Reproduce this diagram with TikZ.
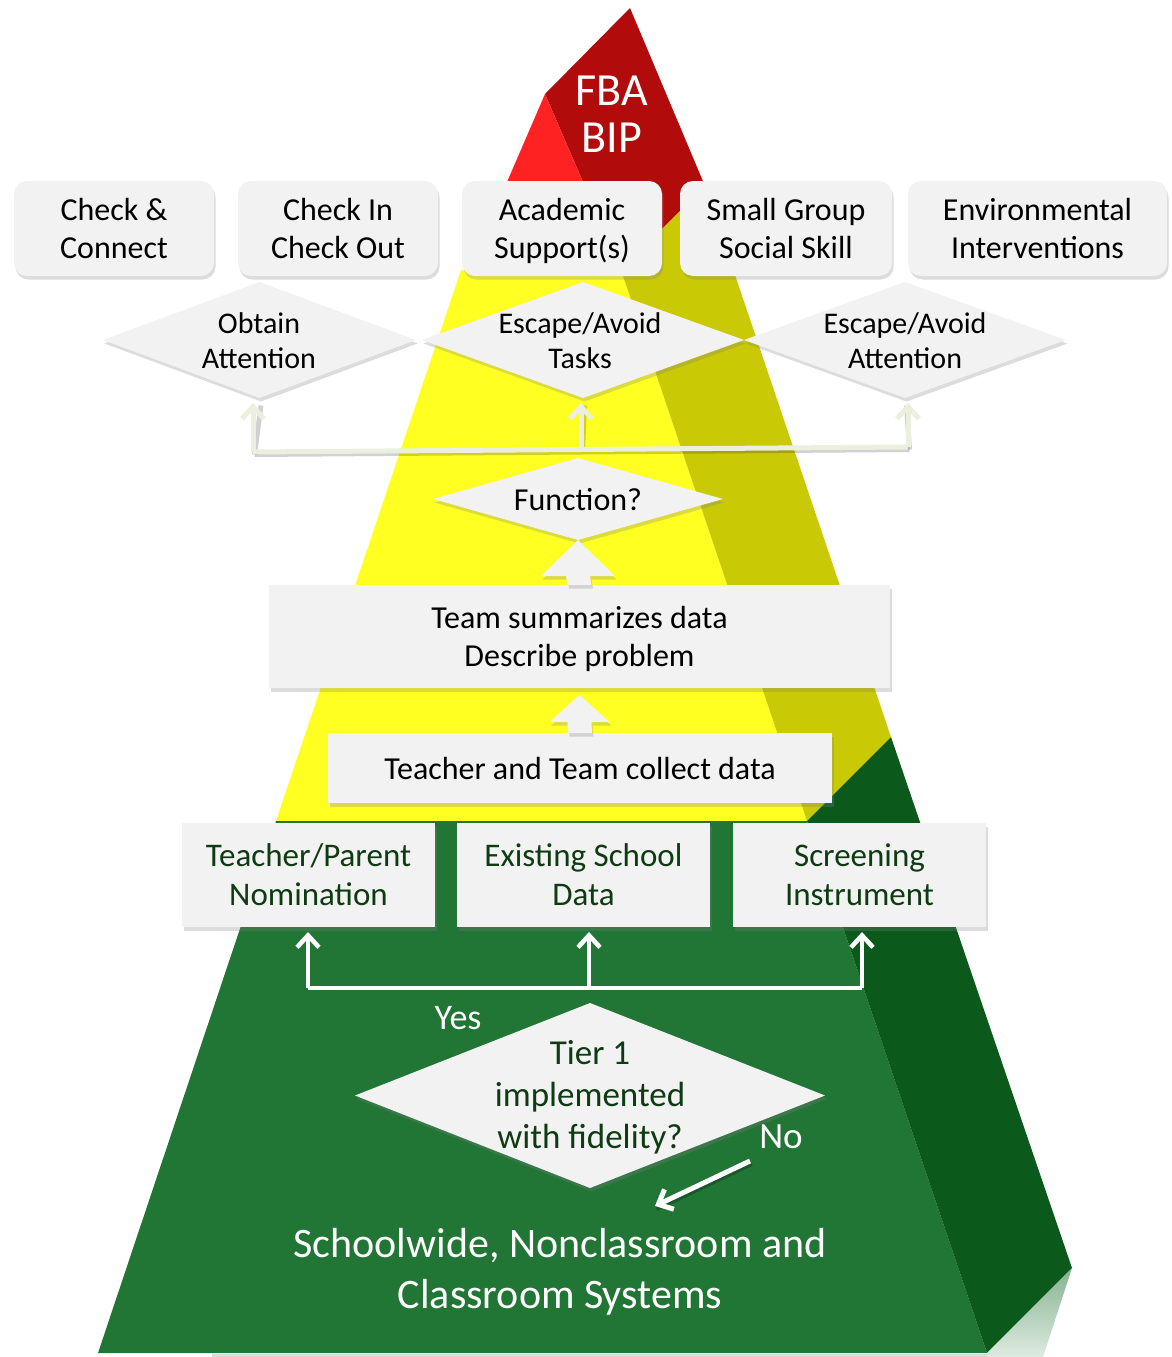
\documentclass[tikz,border=0pt]{standalone}
\usepackage{fontspec}
\setmainfont{Carlito}
\usetikzlibrary{shapes.geometric,arrows.meta,shadows,calc}
\definecolor{redD}{HTML}{B20B0B}
\definecolor{redL}{HTML}{FF2222}
\definecolor{yel}{HTML}{FFFF22}
\definecolor{olive}{HTML}{C9C906}
\definecolor{grnF}{HTML}{217535}
\definecolor{grnS}{HTML}{0B5A1C}
\definecolor{boxg}{HTML}{F2F2F2}
\definecolor{pale}{HTML}{EBF0DE}
\definecolor{gtext}{HTML}{0E3B12}
\begin{document}
\begin{tikzpicture}[x=1pt,y=-1pt,
  shad/.style={drop shadow={shadow xshift=1.5pt,shadow yshift=-3.5pt,opacity=0.28}},
  tbox/.style={shad,fill=boxg,rounded corners=13pt,minimum height=95pt,inner sep=0pt,outer sep=0pt,align=center,font=\fontsize{32}{38}\selectfont},
  sbox/.style={shad,fill=boxg,inner sep=0pt,outer sep=0pt,align=center},
  dia/.style={shad,diamond,fill=boxg,inner sep=0pt,outer sep=0pt},
  dtext/.style={inner sep=0pt,align=center,font=\fontsize{30}{35}\selectfont},
  paleline/.style={draw=pale,line width=5pt},
  palearr/.style={draw=pale,line width=5pt,shorten >=5pt,-{Straight Barb[length=12pt,width=22pt]}},
  wline/.style={draw=white,line width=4.5pt},
  warr/.style={draw=white,line width=4.5pt,shorten >=5pt,-{Straight Barb[length=12pt,width=22pt]}},
  barrow/.style={fill=boxg,shad}
]
\useasboundingbox (0,0) rectangle (1171,1357);
% ---------- pyramid ----------
% red top
\fill[redD] (545,94) -- (630,8) -- (705,186) -- (621,270) -- cycle;
\fill[redL] (545,94) -- (621,270) -- (469,270) -- cycle;
% yellow
\fill[yel] (461,270) -- (621,270) -- (807,821) -- (276,821) -- cycle;
\fill[olive] (621,270) -- (705,186) -- (891,737) -- (807,821) -- cycle;
% green
\fill[grnF] (276,821) -- (807,821) -- (987,1353) -- (98,1353) -- cycle;
\fill[grnS] (807,821) -- (891,737) -- (1072,1268) -- (987,1353) -- cycle;
% reflection
\shade[top color=grnF!55,bottom color=grnF!15] (987,1353) -- (1072,1268) -- (1043,1357) -- (987,1357) -- cycle;
\fill[grnF!22] (212,1353.5) rectangle (987,1357);
% ---------- top boxes ----------
\node[tbox,minimum width=200pt] (cc)  at (114,228.5)  {Check \&\\Connect};
\node[tbox,minimum width=200pt] (cico) at (338,228.5) {Check In\\Check Out};
\node[tbox,minimum width=200pt] (acad) at (562,228.5) {Academic\\\smash{Support(s)}};
\node[tbox,minimum width=212pt] (ssk) at (786,228.5)  {Small Group\\Social Skill};
\node[tbox,minimum width=259pt] (env) at (1037.5,228.5) {Environmental\\Interventions};
% FBA BIP
\node[text=white,align=center,font=\fontsize{46}{47}\selectfont] (fba) at (612,114) {FBA\\BIP};
% ---------- function diamonds ----------
\node[dia,minimum width=313pt,minimum height=116pt] (obt) at (259.5,340) {};
\node[dtext] (obtT) at (259,340.5) {Obtain\\Attention};
\node[dia,minimum width=322pt,minimum height=116pt] (task) at (583,340) {};
\node[dtext] (taskT) at (580,340.5) {Escape/Avoid\\Tasks};
\node[dia,minimum width=322pt,minimum height=116pt] (att) at (905,340) {};
\node[dtext] (attT) at (905,340.5) {Escape/Avoid\\Attention};
% pale connectors
\coordinate (pl) at (253,452);
\coordinate (pm) at (581,449.5);
\coordinate (pr) at (908,447);
\begin{scope}[transform canvas={shift={(1.5pt,-2.5pt)}},opacity=0.18]
  \draw[line width=5pt,black] (pl) -- (pr);
  \draw[line width=5pt,black] (pl) -- ($(obt.south)+(0,5)$);
  \draw[line width=5pt,black] (pm) -- ($(task.south)+(0,5)$);
  \draw[line width=5pt,black] (pr) -- ($(att.south)+(0,5)$);
\end{scope}
\draw[paleline] (pl) -- (pr);
\draw[palearr] (pl) -- (pl |- obt.south);
\draw[palearr] (pm) -- (pm |- task.south);
\draw[palearr] (pr) -- (pr |- att.south);
% Function?
\node[dia,minimum width=290pt,minimum height=82pt] (fun) at (578,499) {};
\node[inner sep=0pt,font=\fontsize{32}{35}\selectfont] (funT) at (578,500) {Function?};
% team boxes
\node[sbox,minimum width=621pt,minimum height=103pt,font=\fontsize{32}{38}\selectfont] (team) at (579.5,636.5) {Team summarizes data\\\smash{Describe problem}};
\node[sbox,minimum width=504pt,minimum height=70pt,font=\fontsize{32}{38}\selectfont] (coll) at (580,768) {Teacher and Team collect data};
% block arrows
\path[barrow] (fun.south) -- ++(37,36) -- ++(-25,0) -- ($(team.north)+(12,0)$) -- ($(team.north)+(-12,0)$) -- ($(fun.south)+(-12,36)$) -- ++(-25,0) -- cycle;
\path[barrow] ($(team.south)+(0,7)$) -- ++(30,27) -- ++(-18,0) -- ($(coll.north)+(12,0)$) -- ($(coll.north)+(-12,0)$) -- ($(team.south)+(-12,34)$) -- ++(-18,0) -- cycle;
% bottom boxes
\node[sbox,minimum width=253pt,minimum height=104pt,text=gtext,font=\fontsize{33}{39}\selectfont] (nom) at (308.5,875) {Teacher/Parent\\Nomination};
\node[sbox,minimum width=253pt,minimum height=104pt,text=gtext,font=\fontsize{33}{39}\selectfont] (exist) at (583.5,875) {Existing School\\Data};
\node[sbox,minimum width=253pt,minimum height=104pt,text=gtext,font=\fontsize{33}{39}\selectfont] (scr) at (859.5,875) {Screening\\Instrument};
% Tier 1 diamond
\node[dia,minimum width=470pt,minimum height=185pt] (tier) at (590,1095.5) {};
\node[inner sep=0pt,align=center,text=gtext,font=\fontsize{35}{42}\selectfont] (tierT) at (590,1094) {Tier 1\\implemented\\\smash{with fidelity?}};
% white connectors
\coordinate (wl) at (308,988);
\coordinate (wm) at (589,988);
\coordinate (wr) at (862,988);
\draw[wline] (wl) -- (wr);
\draw[warr] (wl) -- (wl |- nom.south);
\draw[warr] (wm) -- (wm |- exist.south);
\draw[warr] (wr) -- (wr |- scr.south);
\node[text=white,font=\fontsize{36}{40}\selectfont] (yes) at (458,1018) {Yes};
\node[text=white,font=\fontsize{37}{40}\selectfont] (no) at (781,1137) {No};
\coordinate (ns) at (750,1161);
\coordinate (ne) at (655,1206);
\begin{scope}[transform canvas={shift={(1.5pt,-2.5pt)}},opacity=0.25]
  \draw[line width=5pt,black] (ns) -- (ne);
\end{scope}
\draw[warr,line width=5pt,shorten >=0pt] (ns) -- (ne);
% bottom title
\node[text=white,align=center,font=\fontsize{42}{51}\selectfont] (sys) at (560,1268) {Schoolwide, Nonclassroom and\\\smash{Classroom Systems}};
\end{tikzpicture}
\end{document}
